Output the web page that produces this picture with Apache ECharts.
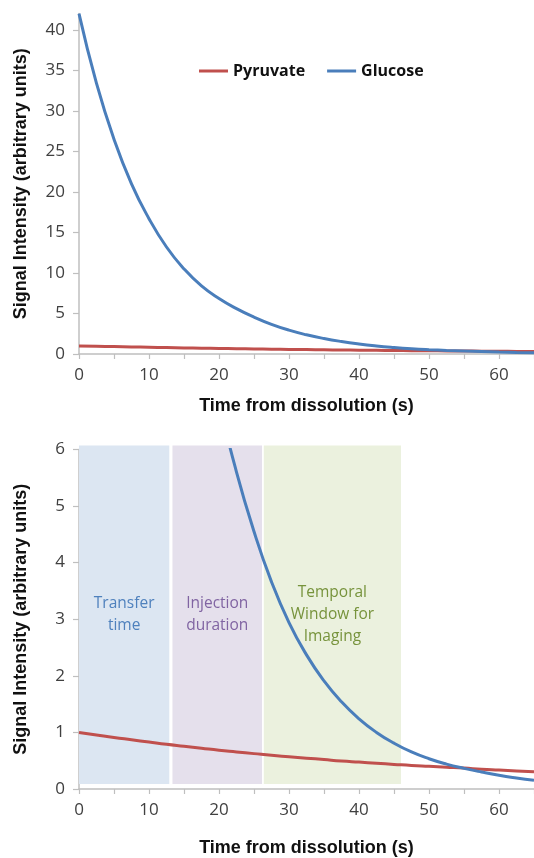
<!DOCTYPE html>
<html>
<head>
<meta charset="utf-8">
<script src="https://cdn.jsdelivr.net/npm/echarts@6/dist/echarts.min.js"></script>
<style>
html,body{margin:0;padding:0;background:#fff;}
#chart{width:534px;height:858px;}
</style>
</head>
<body>
<div id="chart"></div>
<script>
// ---- data ----
const time = [0, 2.5, 5, 7.5, 10, 12.5, 15, 17.5, 20, 22.5, 25, 27.5, 30, 32.5, 35, 37.5, 40, 42.5, 45, 47.5, 50, 52.5, 55, 57.5, 60, 62.5, 65];
const pyruvate = [1.00, 0.955, 0.91, 0.87, 0.83, 0.79, 0.755, 0.72, 0.685, 0.655, 0.625, 0.595, 0.57, 0.545, 0.52, 0.495, 0.475, 0.455, 0.435, 0.415, 0.40, 0.385, 0.37, 0.35, 0.335, 0.32, 0.305];
const glucose = [42.0, 33.4, 26.5, 21.0, 16.7, 13.2, 10.5, 8.4, 6.85, 5.6, 4.55, 3.66, 2.94, 2.37, 1.91, 1.54, 1.24, 1.0, 0.81, 0.655, 0.535, 0.44, 0.365, 0.30, 0.242, 0.195, 0.155];
const seriesNames = ['Pyruvate', 'Glucose'];
const xTickValues = [0, 5, 10, 15, 20, 25, 30, 35, 40, 45, 50, 55, 60, 65];
const xLabelValues = [0, 10, 20, 30, 40, 50, 60];
const yTopTicks = [0, 5, 10, 15, 20, 25, 30, 35, 40];
const yBottomTicks = [0, 1, 2, 3, 4, 5, 6];
const bandStart = [0, 13.35, 26.4];
const bandEnd = [12.9, 26.15, 46.0];
const bandLow = [0.09, 0.09, 0.09];
const bandHigh = [6.07, 6.07, 6.07];
const bandLabels = ['Transfer\ntime', 'Injection\nduration', 'Temporal\nWindow for\nImaging'];

// ---- styles ----
const bandFill = ['#dce6f2', '#e5e0ec', '#ebf1de'];
const bandTextColor = ['#4f81bd', '#8064a2', '#77933c'];
const RED = '#c0504d', BLUE = '#4a7ebb';
const AXIS_GRAY = '#bfbfbf';

const pyrData = time.map((t, i) => [t, pyruvate[i]]);
const gluData = time.map((t, i) => [t, glucose[i]]);
const bandData = bandStart.map((s, i) => [s, bandEnd[i], bandLow[i], bandHigh[i]]);

function xAxisDef(gridIndex, nameGap) {
  return {
    type: 'value', gridIndex, min: 0, max: 65, interval: 5,
    name: 'Time from dissolution (s)', nameLocation: 'middle', nameGap,
    nameTextStyle: { fontFamily: 'Liberation Sans', fontWeight: 'bold', fontSize: 18, color: '#111' },
    axisLine: { show: true, onZero: false, lineStyle: { color: AXIS_GRAY, width: 1.5 } },
    axisTick: { show: true, length: 5, customValues: xTickValues, lineStyle: { color: AXIS_GRAY, width: 1.2 } },
    axisLabel: { customValues: xLabelValues, margin: 13, fontFamily: 'Open Sans', fontSize: 17, color: '#404040' },
    splitLine: { show: false }
  };
}
function yAxisDef(gridIndex, max, interval, ticks) {
  return {
    type: 'value', gridIndex, min: 0, max, interval,
    name: 'Signal Intensity (arbitrary units)', nameLocation: 'middle', nameGap: 49, nameRotate: 90,
    nameTextStyle: { fontFamily: 'Liberation Sans', fontWeight: 'bold', fontSize: 18, color: '#111' },
    axisLine: { show: true, onZero: false, lineStyle: { color: AXIS_GRAY, width: 1.5 } },
    axisTick: { show: true, length: 6, customValues: ticks, lineStyle: { color: AXIS_GRAY, width: 1.2 } },
    axisLabel: { customValues: ticks, margin: 14, fontFamily: 'Open Sans', fontSize: 17, color: '#404040' },
    splitLine: { show: false }
  };
}

const chart = echarts.init(document.getElementById('chart'), null, { renderer: 'canvas' });
chart.setOption({
  animation: false,
  backgroundColor: '#ffffff',
  legend: {
    data: seriesNames, left: 194, top: 58, itemWidth: 29, itemHeight: 3, itemGap: 22,
    icon: 'rect',
    textStyle: { fontFamily: 'Open Sans', fontWeight: 'bold', fontSize: 16, color: '#111' }
  },
  grid: [
    { left: 79, right: 0, top: 13.6, height: 340.4 },
    { left: 79, right: 0, top: 449.4, height: 340.6 }
  ],
  xAxis: [xAxisDef(0, 43), xAxisDef(1, 50)],
  yAxis: [yAxisDef(0, 42, 5, yTopTicks), yAxisDef(1, 6, 1, yBottomTicks)],
  series: [
    {
      type: 'custom', xAxisIndex: 1, yAxisIndex: 1, data: bandData, clip: false, silent: true,
      encode: { x: [0, 1], y: [2, 3] }, z: 1,
      renderItem: function (params, api) {
        const i = params.dataIndex;
        const p0 = api.coord([api.value(0), api.value(3)]);
        const p1 = api.coord([api.value(1), api.value(2)]);
        return {
          type: 'rect',
          shape: { x: p0[0], y: p0[1], width: p1[0] - p0[0], height: p1[1] - p0[1] },
          style: { fill: bandFill[i] },
          textContent: {
            style: { text: bandLabels[i], fill: bandTextColor[i], fontFamily: 'Open Sans', fontSize: 15.5, lineHeight: 22, align: 'center' }
          },
          textConfig: { position: 'inside' }
        };
      }
    },
    { name: 'Pyruvate', type: 'line', xAxisIndex: 0, yAxisIndex: 0, data: pyrData, smooth: true, showSymbol: false, lineStyle: { color: RED, width: 3 }, itemStyle: { color: RED }, z: 3 },
    { name: 'Glucose', type: 'line', xAxisIndex: 0, yAxisIndex: 0, data: gluData, smooth: true, showSymbol: false, lineStyle: { color: BLUE, width: 3 }, itemStyle: { color: BLUE }, z: 3 },
    { name: 'Pyruvate', type: 'line', xAxisIndex: 1, yAxisIndex: 1, data: pyrData, smooth: true, showSymbol: false, clip: true, lineStyle: { color: RED, width: 3 }, itemStyle: { color: RED }, z: 3 },
    { name: 'Glucose', type: 'line', xAxisIndex: 1, yAxisIndex: 1, data: gluData, smooth: true, showSymbol: false, clip: true, lineStyle: { color: BLUE, width: 3 }, itemStyle: { color: BLUE }, z: 3 }
  ]
});
</script>
</body>
</html>
